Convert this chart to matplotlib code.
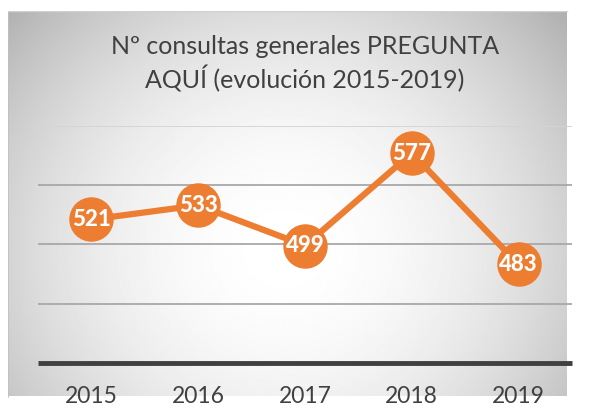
import matplotlib.pyplot as plt
import numpy as np

years = ["2015", "2016", "2017", "2018", "2019"]
consultas = [521, 533, 499, 577, 483]
grid_values = [450, 500, 550, 600]

titulo = "Nº consultas generales PREGUNTA\nAQUÍ (evolución 2015-2019)"

orange = "#ED7D31"
dark = "#404040"

plt.rcParams["font.family"] = ["Lato", "DejaVu Sans"]

fig = plt.figure(figsize=(5.95, 4.16), dpi=100)
fig.patch.set_facecolor("white")

# fondo con degradado radial (tarjeta)
bg = fig.add_axes([8 / 595, 0, 1 - 8 / 595, (416 - 11) / 416])
h, w = 405, 587
yy, xx = np.mgrid[0:h, 0:w]
cx, cy = 290, 250
d = np.sqrt(((xx - cx) / 340.0) ** 2 + ((yy - cy) / 320.0) ** 2)
grey = 1 - 0.23 * np.clip(d, 0, 1.2) ** 2.0
bg.imshow(grey, cmap="gray", vmin=0, vmax=1, aspect="auto", interpolation="bilinear")
bg.set_axis_off()
bg.plot([0, 0], [0, h], color="#c0c0c0", lw=1.2)
bg.plot([0, w], [0, 0], color="#d0d0d0", lw=1.0)

ax = fig.add_axes([38 / 595, (416 - 362.7) / 416, 534 / 595, (362.7 - 126) / 416])
ax.patch.set_alpha(0)
x = np.arange(len(years))
ax.set_xlim(-0.5, len(years) - 0.5)
ax.set_ylim(400, 600)

for g in grid_values:
    c = "#d4d4d4" if g == 600 else "#a8a8a8"
    ax.axhline(g, color=c, lw=1.3, zorder=1)

for s in ["top", "right", "left"]:
    ax.spines[s].set_visible(False)
ax.spines["bottom"].set_color(dark)
ax.spines["bottom"].set_linewidth(3.5)
ax.spines["bottom"].set_capstyle("butt")
ax.spines["bottom"].set_zorder(2)

ax.plot(x, consultas, color=orange, lw=4.5, marker="o", markersize=31,
        markerfacecolor=orange, markeredgecolor=orange, zorder=3, clip_on=False)
for xi, v in zip(x, consultas):
    ax.text(xi, v, str(v), ha="center", va="center", color="white",
            fontsize=16, fontweight="black", zorder=4)

ax.set_yticks([])
ax.set_xticks(x)
ax.set_xticklabels(years, fontsize=16.5, color=dark)
ax.tick_params(axis="x", length=0, pad=17)

fig.text(305 / 595, 1 - 64 / 416, titulo, ha="center", va="center",
         fontsize=18, color=dark, linespacing=1.3)

fig.savefig("out.png", dpi=100)
